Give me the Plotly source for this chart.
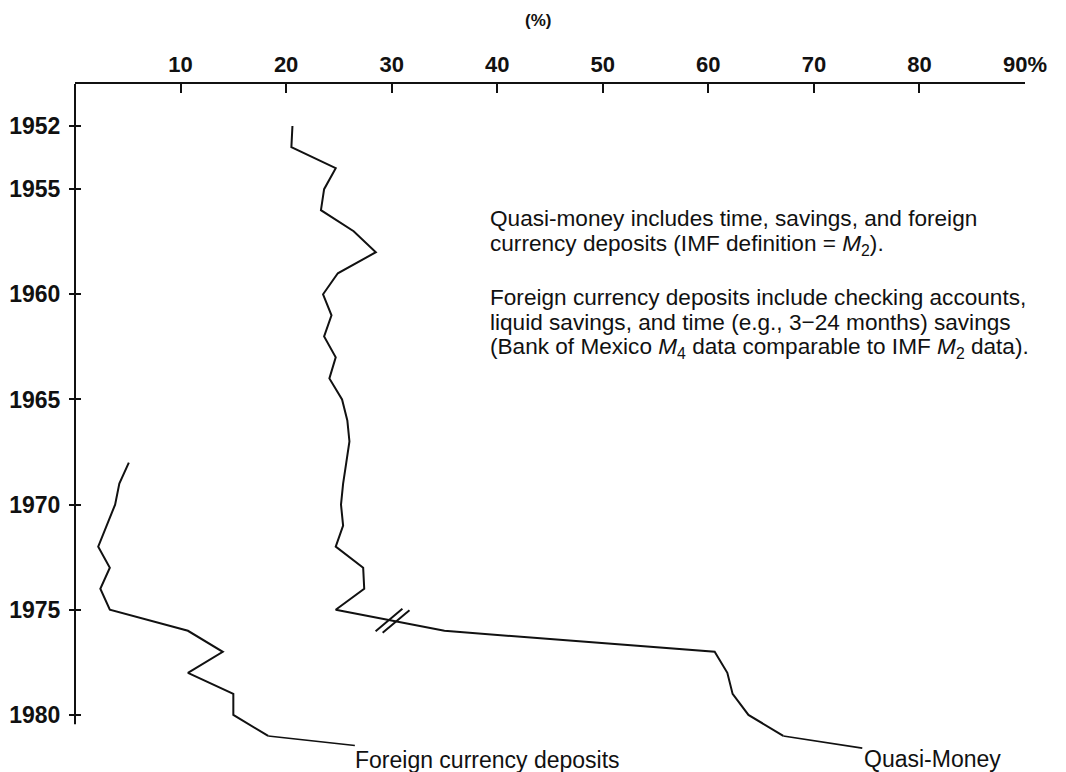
import plotly.graph_objects as go

# ---------------- data ----------------
years_qm = list(range(1952, 1982))
quasi_money = [20.6, 20.5, 24.7, 23.6, 23.3, 26.4, 28.5, 24.9, 23.5, 24.3,
               23.6, 24.7, 24.1, 25.3, 25.8, 26.0, 25.7, 25.4, 25.2, 25.4,
               24.7, 27.3, 27.4, 24.7, 35.0, 60.6, 61.8, 62.3, 63.8, 67.1]

years_fx = list(range(1968, 1982))
foreign_dep = [5.1, 4.2, 3.8, 3.0, 2.2, 3.3, 2.4, 3.3, 10.7, 14.0, 10.7, 15.0, 15.0, 18.3]

x_tickvals = [10, 20, 30, 40, 50, 60, 70, 80, 90]
x_ticktext = ["10", "20", "30", "40", "50", "60", "70", "80", "90%"]
y_tickvals = [1952, 1955, 1960, 1965, 1970, 1975, 1980]

note_lines = [
    "Quasi-money includes time, savings, and foreign",
    "currency deposits (IMF definition = <i>M</i><sub>2</sub>).",
    "Foreign currency deposits include checking accounts,",
    "liquid savings, and time (e.g., 3\u221224 months) savings",
    "(Bank of Mexico <i>M</i><sub>4</sub> data comparable to IMF <i>M</i><sub>2</sub> data).",
]

# ---------------- layout geometry ----------------
W, H = 1066, 772
L, R, T, B = 75, 41, 84, 2
X_RANGE = [0, 90]
Y_TOP, Y_BOTTOM = 1950, 1982.62
AXIS_END_YEAR = 1980.45
INK = "#111111"
FONT = "Liberation Sans, Arial, Helvetica, sans-serif"


def paper(px, py):
    return (px - L) / (W - L - R), (H - B - py) / (H - T - B)


def year_to_paper(yr):
    return (Y_BOTTOM - yr) / (Y_BOTTOM - Y_TOP)


fig = go.Figure()

fig.add_trace(go.Scatter(x=quasi_money, y=years_qm, mode="lines",
                         line=dict(color=INK, width=2), name="Quasi-Money",
                         showlegend=False, hoverinfo="skip"))
fig.add_trace(go.Scatter(x=foreign_dep, y=years_fx, mode="lines",
                         line=dict(color=INK, width=2), name="Foreign currency deposits",
                         showlegend=False, hoverinfo="skip"))

# break mark "//" on the 1975-1976 segment of the quasi-money line
i75 = years_qm.index(1975)
bx, by = [], []
for t in (0.49, 0.555):
    bx.append(quasi_money[i75] + t * (quasi_money[i75 + 1] - quasi_money[i75]))
    by.append(years_qm[i75] + t * (years_qm[i75 + 1] - years_qm[i75]))
fig.add_trace(go.Scatter(x=bx, y=by, mode="markers", showlegend=False, hoverinfo="skip",
                         marker=dict(symbol="line-ew", size=25, angle=-40,
                                     line=dict(color=INK, width=2))))

# dummy trace for overlay tick axes
fig.add_trace(go.Scatter(x=[None], y=[None], xaxis="x2", yaxis="y2", showlegend=False))

# vertical (year) axis line, ending just below 1980
fig.add_shape(type="line", xref="paper", yref="paper", x0=0, x1=0,
              y0=1.0, y1=year_to_paper(AXIS_END_YEAR),
              line=dict(color=INK, width=2))

annotations = []
# (%) title
ax_, ay_ = paper(538, 20.5)
annotations.append(dict(x=ax_, y=ay_, xref="paper", yref="paper", text="(%)",
                        xanchor="center", yanchor="middle", showarrow=False,
                        font=dict(size=17, family=FONT, color=INK, weight="bold")))

# notes
for txt, py in zip(note_lines, [218.0, 244.6, 297.4, 322.9, 348.4]):
    nx, ny = paper(489.0, py)
    annotations.append(dict(x=nx, y=ny, xref="paper", yref="paper", text=txt,
                            xanchor="left", yanchor="middle", showarrow=False,
                            borderpad=0,
                            font=dict(size=22.6, family=FONT, color=INK)))

# series labels with leader lines
annotations.append(dict(x=quasi_money[-1], y=years_qm[-1], xref="x", yref="y",
                        text="Quasi-Money", showarrow=True, arrowhead=0, arrowwidth=1.6,
                        arrowcolor=INK, ax=149, ay=23, standoff=0,
                        font=dict(size=23, family=FONT, color=INK)))
annotations.append(dict(x=foreign_dep[-1], y=years_fx[-1], xref="x", yref="y",
                        text="Foreign currency deposits", showarrow=True, arrowhead=0,
                        arrowwidth=1.6, arrowcolor=INK, ax=219, ay=24, standoff=0,
                        font=dict(size=23, family=FONT, color=INK)))

fig.update_layout(
    width=W, height=H,
    margin=dict(l=L, r=R, t=T, b=B, pad=0),
    paper_bgcolor="white", plot_bgcolor="white",
    showlegend=False,
    annotations=annotations,
    xaxis=dict(range=X_RANGE, side="top", showgrid=False, zeroline=False,
               showline=True, linecolor=INK, linewidth=2,
               tickmode="array", tickvals=x_tickvals, ticktext=x_ticktext,
               ticks="", ticklabelstandoff=1,
               tickfont=dict(size=22, family=FONT, color=INK, weight="bold")),
    xaxis2=dict(range=X_RANGE, overlaying="x", side="top", showgrid=False, zeroline=False,
                showline=False, tickmode="array", tickvals=x_tickvals[:-1],
                ticks="inside", ticklen=9, tickwidth=1.5, tickcolor=INK,
                showticklabels=False),
    yaxis=dict(range=[Y_BOTTOM, Y_TOP], showgrid=False, zeroline=False, showline=False,
               tickmode="array", tickvals=y_tickvals,
               ticks="outside", ticklen=5, tickwidth=2, tickcolor=INK,
               ticklabelstandoff=4,
               tickfont=dict(size=23, family=FONT, color=INK, weight="bold")),
    yaxis2=dict(range=[Y_BOTTOM, Y_TOP], overlaying="y", side="left", showgrid=False,
                zeroline=False, showline=False, tickmode="array", tickvals=y_tickvals,
                ticks="inside", ticklen=6, tickwidth=2, tickcolor=INK,
                showticklabels=False),
)

fig.write_html("out.html", config={"displayModeBar": False},
               post_script="document.body.style.margin='0';document.body.style.overflow='hidden';")
